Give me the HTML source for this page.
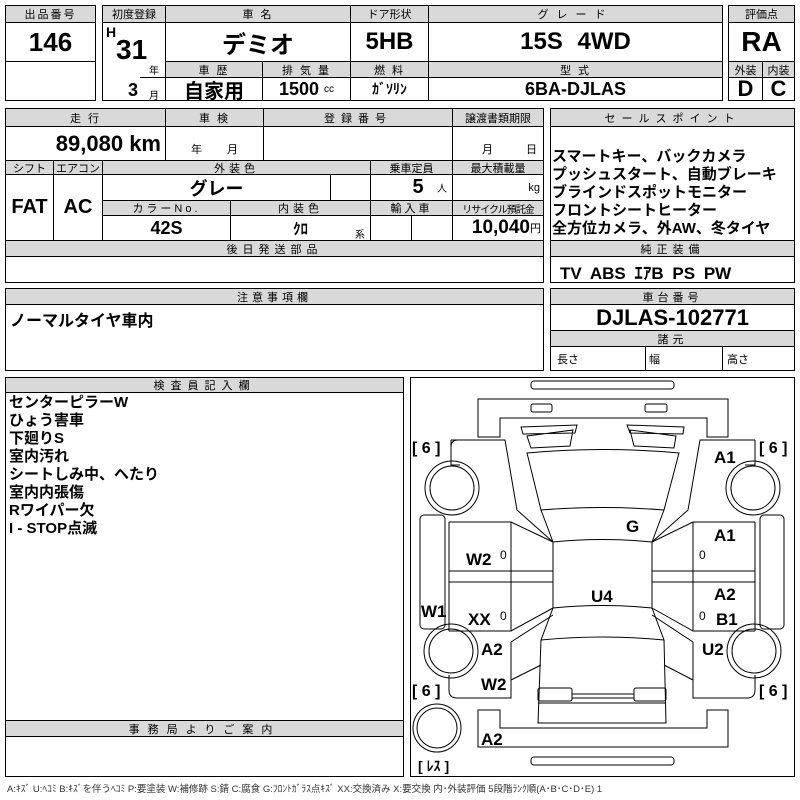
<!DOCTYPE html>
<html><head><meta charset="utf-8">
<style>
*{margin:0;padding:0;box-sizing:border-box}
body{width:800px;height:800px;background:#fff;position:relative;overflow:hidden;font-family:"Liberation Sans","Noto Sans CJK JP",sans-serif;color:#000}
.c{position:absolute;border:1px solid #000;display:flex;align-items:center;justify-content:center;white-space:nowrap;overflow:hidden}
.h{background:#d9d9d9;font-size:11px;letter-spacing:2px}
.b{position:absolute;border:1.5px solid #000}
.n{font-family:"Liberation Sans Narrow","Liberation Sans","Noto Sans CJK JP",sans-serif;font-weight:bold}
.t{position:absolute;white-space:nowrap}
.lab{position:absolute;font-weight:bold;font-size:17px;font-family:"Liberation Sans",sans-serif}
</style></head><body>

<!-- box1 -->
<div class="b" style="left:5px;top:5px;width:91px;height:96px"></div>
<div class="c h" style="left:5px;top:5px;width:91px;height:18px">出品番号</div>
<div class="c n" style="left:5px;top:22px;width:91px;height:40px;font-size:26px">146</div>

<!-- box2 -->
<div class="b" style="left:102px;top:5px;width:621px;height:96px"></div>
<div class="c h" style="left:102px;top:5px;width:64px;height:18px;letter-spacing:0">初度登録</div>
<div class="c h" style="left:165px;top:5px;width:186px;height:18px">車 名</div>
<div class="c h" style="left:350px;top:5px;width:79px;height:18px;letter-spacing:0">ドア形状</div>
<div class="c h" style="left:428px;top:5px;width:295px;height:18px;letter-spacing:8px">グレード</div>
<div class="c" style="left:102px;top:22px;width:64px;height:79px"></div>
<div class="t n" style="left:106px;top:24px;font-size:14px">H</div>
<div class="t n" style="left:116px;top:34px;font-size:28px">31</div>
<div class="t" style="left:149px;top:62px;font-size:10px">年</div>
<div class="t n" style="left:128px;top:80px;font-size:18px">3</div>
<div class="t" style="left:149px;top:87px;font-size:10px">月</div>
<div class="c" style="left:102px;top:77px;width:64px;height:1px;border-width:1px 0 0 0;left:140px;width:26px"></div>
<div class="c n" style="left:165px;top:22px;width:186px;height:40px;font-size:24px">デミオ</div>
<div class="c n" style="left:350px;top:22px;width:79px;height:40px;font-size:24px">5HB</div>
<div class="c n" style="left:428px;top:22px;width:295px;height:40px;font-size:24px;word-spacing:8px">15S 4WD</div>
<div class="c h" style="left:165px;top:61px;width:98px;height:17px">車 歴</div>
<div class="c h" style="left:262px;top:61px;width:89px;height:17px">排 気 量</div>
<div class="c h" style="left:350px;top:61px;width:79px;height:17px">燃 料</div>
<div class="c h" style="left:428px;top:61px;width:295px;height:17px">型 式</div>
<div class="c n" style="left:165px;top:77px;width:98px;height:24px;font-size:20px">自家用</div>
<div class="c n" style="left:262px;top:77px;width:89px;height:24px;font-size:18px">1500&nbsp;<span style="font-size:10px;font-weight:normal">cc</span></div>
<div class="c n" style="left:350px;top:77px;width:79px;height:24px;font-size:14px">ｶﾞｿﾘﾝ</div>
<div class="c n" style="left:428px;top:77px;width:295px;height:24px;font-size:18px">6BA-DJLAS</div>

<!-- box3 -->
<div class="b" style="left:728px;top:5px;width:67px;height:96px"></div>
<div class="c h" style="left:728px;top:5px;width:67px;height:18px;letter-spacing:0">評価点</div>
<div class="c n" style="left:728px;top:22px;width:67px;height:40px;font-size:28px">RA</div>
<div class="c h" style="left:728px;top:61px;width:35px;height:17px;letter-spacing:0">外装</div>
<div class="c h" style="left:762px;top:61px;width:33px;height:17px;letter-spacing:0">内装</div>
<div class="c n" style="left:728px;top:77px;width:35px;height:24px;font-size:22px">D</div>
<div class="c n" style="left:762px;top:77px;width:33px;height:24px;font-size:22px">C</div>

<!-- block 2 -->
<div class="b" style="left:5px;top:108px;width:539px;height:175px"></div>
<div class="c h" style="left:5px;top:108px;width:161px;height:19px">走 行</div>
<div class="c h" style="left:165px;top:108px;width:99px;height:19px">車 検</div>
<div class="c h" style="left:263px;top:108px;width:190px;height:19px;letter-spacing:6px">登録番号</div>
<div class="c h" style="left:452px;top:108px;width:92px;height:19px;letter-spacing:0">譲渡書類期限</div>
<div class="c n" style="left:5px;top:126px;width:161px;height:35px;font-size:22px;justify-content:flex-end;padding-right:4px">89,080 km</div>
<div class="c" style="left:165px;top:126px;width:99px;height:35px;font-size:11px;align-items:flex-end;padding-bottom:3px;word-spacing:22px">年 月</div>
<div class="c" style="left:263px;top:126px;width:190px;height:35px"></div>
<div class="c" style="left:452px;top:126px;width:92px;height:35px;font-size:11px;align-items:flex-end;padding-bottom:3px;justify-content:flex-end;padding-right:6px;word-spacing:30px">月 日</div>
<div class="c h" style="left:5px;top:160px;width:49px;height:15px;letter-spacing:0">シフト</div>
<div class="c h" style="left:53px;top:160px;width:50px;height:15px;letter-spacing:0">エアコン</div>
<div class="c h" style="left:102px;top:160px;width:269px;height:15px;letter-spacing:4px">外装色</div>
<div class="c h" style="left:370px;top:160px;width:83px;height:15px;letter-spacing:0">乗車定員</div>
<div class="c h" style="left:452px;top:160px;width:92px;height:15px;letter-spacing:0">最大積載量</div>
<div class="c n" style="left:5px;top:174px;width:49px;height:67px;font-size:20px">FAT</div>
<div class="c n" style="left:53px;top:174px;width:50px;height:67px;font-size:20px">AC</div>
<div class="c n" style="left:102px;top:174px;width:229px;height:27px;font-size:18px">グレー</div>
<div class="c" style="left:330px;top:174px;width:41px;height:27px"></div>
<div class="c" style="left:370px;top:174px;width:83px;height:27px;justify-content:flex-end;padding-right:5px"><span class="n" style="font-size:20px">5</span>&nbsp;&nbsp;&nbsp;<span style="font-size:10px">人</span></div>
<div class="c" style="left:452px;top:174px;width:92px;height:27px;font-size:11px;justify-content:flex-end;padding-right:3px">kg</div>
<div class="c h" style="left:102px;top:200px;width:129px;height:16px;letter-spacing:3px">カラーNo.</div>
<div class="c h" style="left:230px;top:200px;width:141px;height:16px;letter-spacing:4px">内装色</div>
<div class="c h" style="left:370px;top:200px;width:83px;height:16px;letter-spacing:3px">輸入車</div>
<div class="c h" style="left:452px;top:200px;width:92px;height:16px;letter-spacing:-1px;font-size:10px">リサイクル預託金</div>
<div class="c n" style="left:102px;top:215px;width:129px;height:26px;font-size:18px">42S</div>
<div class="c" style="left:230px;top:215px;width:141px;height:26px"><span class="n" style="font-size:15px">ｸﾛ</span></div>
<div class="t" style="left:355px;top:226px;font-size:10px">系</div>
<div class="c" style="left:370px;top:215px;width:42px;height:26px"></div>
<div class="c" style="left:411px;top:215px;width:42px;height:26px"></div>
<div class="c" style="left:452px;top:215px;width:92px;height:26px;justify-content:flex-end;padding-right:2px"><span class="n" style="font-size:19px">10,040</span><span style="font-size:11px">円</span></div>
<div class="c h" style="left:5px;top:240px;width:539px;height:17px;letter-spacing:5px">後日発送部品</div>

<!-- sales -->
<div class="b" style="left:550px;top:108px;width:245px;height:175px"></div>
<div class="c h" style="left:550px;top:108px;width:245px;height:19px;letter-spacing:6px">セールスポイント</div>
<div class="t" style="left:552px;top:148px;font-size:15px;font-weight:bold;line-height:18px">スマートキー、バックカメラ<br>プッシュスタート、自動ブレーキ<br>ブラインドスポットモニター<br>フロントシートヒーター<br>全方位カメラ、外AW、冬タイヤ</div>
<div class="c h" style="left:550px;top:240px;width:245px;height:17px;letter-spacing:5px">純正装備</div>
<div class="t n" style="left:560px;top:259px;font-size:17px;word-spacing:4px">TV ABS ｴｱB PS PW</div>

<!-- chuui -->
<div class="b" style="left:5px;top:288px;width:539px;height:83px"></div>
<div class="c h" style="left:5px;top:288px;width:539px;height:17px;letter-spacing:4px">注意事項欄</div>
<div class="t" style="left:10px;top:307px;font-size:16px;font-weight:bold">ノーマルタイヤ車内</div>

<!-- chassis -->
<div class="b" style="left:550px;top:288px;width:245px;height:83px"></div>
<div class="c h" style="left:550px;top:288px;width:245px;height:17px;letter-spacing:4px">車台番号</div>
<div class="c n" style="left:550px;top:304px;width:245px;height:27px;font-size:22px">DJLAS-102771</div>
<div class="c h" style="left:550px;top:330px;width:245px;height:17px;letter-spacing:4px">諸元</div>
<div class="c" style="left:550px;top:346px;width:96px;height:25px;font-size:11px;justify-content:flex-start;padding-left:6px">長さ</div>
<div class="c" style="left:645px;top:346px;width:78px;height:25px;font-size:11px;justify-content:flex-start;padding-left:3px">幅</div>
<div class="c" style="left:722px;top:346px;width:73px;height:25px;font-size:11px;justify-content:flex-start;padding-left:4px">高さ</div>

<!-- inspector -->
<div class="b" style="left:5px;top:377px;width:399px;height:400px"></div>
<div class="c h" style="left:5px;top:377px;width:399px;height:16px;letter-spacing:6px">検査員記入欄</div>
<div class="t" style="left:9px;top:394px;font-size:15px;font-weight:bold;line-height:18px">センターピラーW<br>ひょう害車<br>下廻りS<br>室内汚れ<br>シートしみ中、へたり<br>室内内張傷<br>Rワイパー欠<br>I - <span class="n">STOP</span>点滅</div>
<div class="c h" style="left:5px;top:720px;width:399px;height:17px;letter-spacing:8px">事務局よりご案内</div>

<!-- footer -->
<div class="t" style="left:7px;top:781px;font-size:9.5px;color:#333">A:ｷｽﾞ U:ﾍｺﾐ B:ｷｽﾞを伴うﾍｺﾐ P:要塗装 W:補修跡 S:錆 C:腐食 G:ﾌﾛﾝﾄｶﾞﾗｽ点ｷｽﾞ XX:交換済み X:要交換 内･外装評価 5段階ﾗﾝｸ順(A･B･C･D･E) 1</div>

<!-- car diagram -->
<div class="b" style="left:410px;top:377px;width:385px;height:400px;border-width:1px"></div>
<svg style="position:absolute;left:0;top:0" width="800" height="800" fill="none" stroke="#000" stroke-width="1">
<rect x="531" y="381" width="143" height="8" rx="3"/>
<path d="M478 399 H728 V437 H707 V418 H500 V437 H478 Z"/>
<rect x="531" y="404" width="21" height="8" rx="2"/>
<rect x="645" y="404" width="22" height="8" rx="2"/>
<path d="M521 427 L577 425 L575 433 L523 434 Z M527 436 L573 430 L570 446 L531 448 Z"/>
<path d="M627 425 L684 427 L683 434 L630 433 Z M630 430 L676 436 L674 448 L634 446 Z"/>
<path d="M527 453 Q603 446 679 453 L664 510 Q603 505 541 510 Z"/>
<path d="M541 510 L553 542 Q603 537 652 542 L664 510"/>
<path d="M553 542 V608 Q603 603 652 608 V542"/>
<path d="M553 608 L541 640 Q603 634 664 640 L652 608"/>
<path d="M541 640 L538 723 H666 L664 640"/>
<rect x="538" y="688" width="34" height="13" rx="2"/>
<rect x="634" y="688" width="32" height="13" rx="2"/>
<path d="M572 694 H634 M572 698 H634"/>
<path d="M538 703 H666"/>
<path d="M478 710 H500 V728 H707 V710 H728 V747 H478 Z"/>
<rect x="531" y="757" width="143" height="8" rx="3"/>
<!-- front fenders -->
<path d="M451 440 Q451 440 458 440 H505 L517 510 L553 542 M451 440 V465 H460"/>
<path d="M458 440 Q451 440 451 447"/>
<path d="M755 440 H700 L688 510 L652 542 M755 440 V465 H745"/>
<!-- doors -->
<path d="M449 522 H511 L553 542 M449 571 H553 M449 582 H553 M449 631 H511 L553 608 M511 522 V631 M449 522 V631"/>
<path d="M755 522 H693 L652 542 M755 571 H652 M755 582 H652 M755 631 H693 L652 608 M693 522 V631 M755 522 V631"/>
<rect x="420" y="515" width="25" height="114" rx="4"/>
<rect x="760" y="515" width="24" height="114" rx="4"/>
<!-- rear fenders -->
<path d="M511 642 L553 615 M449 675 V690 Q449 698 457 698 H511 V642 M511 680 L541 665"/>
<path d="M693 642 L652 615 M755 675 V690 Q755 698 747 698 H693 V642 M693 680 L664 665"/>
<!-- wheels -->
<circle cx="452" cy="488" r="27"/><circle cx="452" cy="488" r="22"/>
<circle cx="753" cy="488" r="27"/><circle cx="753" cy="488" r="22"/>
<circle cx="451" cy="651" r="27"/><circle cx="451" cy="651" r="22"/>
<circle cx="754" cy="651" r="27"/><circle cx="754" cy="651" r="22"/>
<circle cx="437" cy="728" r="24"/><circle cx="437" cy="728" r="20"/>
</svg>
<div class="t" style="left:412px;top:440px;font-size:16px;font-weight:bold">[ 6 ]</div>
<div class="t" style="left:759px;top:440px;font-size:16px;font-weight:bold">[ 6 ]</div>
<div class="t" style="left:412px;top:683px;font-size:16px;font-weight:bold">[ 6 ]</div>
<div class="t" style="left:759px;top:683px;font-size:16px;font-weight:bold">[ 6 ]</div>
<div class="t" style="left:418px;top:756px;font-size:14px;font-weight:bold">[ ﾚｽ ]</div>
<div class="lab" style="left:714px;top:448px">A1</div>
<div class="lab" style="left:626px;top:517px">G</div>
<div class="lab" style="left:714px;top:526px">A1</div>
<div class="lab" style="left:466px;top:550px">W2</div>
<div class="t" style="left:500px;top:548px;font-size:12px">0</div>
<div class="t" style="left:699px;top:548px;font-size:12px">0</div>
<div class="lab" style="left:591px;top:587px">U4</div>
<div class="lab" style="left:714px;top:585px">A2</div>
<div class="lab" style="left:421px;top:602px">W1</div>
<div class="lab" style="left:468px;top:610px">XX</div>
<div class="t" style="left:500px;top:609px;font-size:12px">0</div>
<div class="t" style="left:699px;top:609px;font-size:12px">0</div>
<div class="lab" style="left:716px;top:610px">B1</div>
<div class="lab" style="left:481px;top:640px">A2</div>
<div class="lab" style="left:702px;top:640px">U2</div>
<div class="lab" style="left:481px;top:675px">W2</div>
<div class="lab" style="left:481px;top:730px">A2</div>
</body></html>
